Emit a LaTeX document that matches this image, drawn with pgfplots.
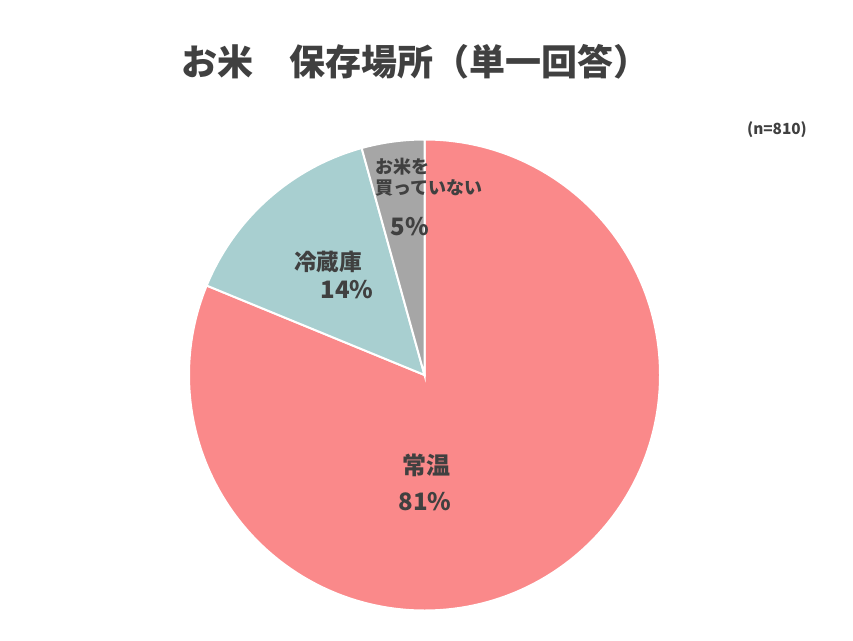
\documentclass[border=0pt]{standalone}
\usepackage{pgfplots}
\pgfplotsset{compat=1.18}
\usepackage{pgfplotstable}
\usepackage{fontspec}
\setmainfont{Noto Sans CJK JP}

\definecolor{jouon}{RGB}{250,137,138}
\definecolor{reizou}{RGB}{168,207,208}
\definecolor{nashi}{RGB}{166,166,166}
\definecolor{txt}{RGB}{64,64,64}

% share of answers in percent, clockwise from 12 o'clock
\pgfplotstableread{
key value
jouon 81.2
reizou 14.5
nashi 4.3
}\piedata

\begin{document}
\begin{tikzpicture}[x=0.75pt, y=0.75pt, every node/.style={text=txt}]
\path[use as bounding box] (0,0) rectangle (853,640);

\pgfplotstablegetelem{0}{value}\of\piedata \let\va\pgfplotsretval
\pgfplotstablegetelem{1}{value}\of\piedata \let\vb\pgfplotsretval
\pgfplotstablegetelem{2}{value}\of\piedata \let\vc\pgfplotsretval
\pgfmathsetmacro\aA{90}
\pgfmathsetmacro\aB{\aA-3.6*\va}
\pgfmathsetmacro\aC{\aB-3.6*\vb}
\pgfmathsetmacro\aD{\aC-3.6*\vc}
\def\R{176.625pt}

\begin{axis}[at={(318.375pt,198.75pt)}, anchor=center,
  width=353.25pt, height=353.25pt, scale only axis,
  hide axis, clip=false,
  xmin=-1, xmax=1, ymin=-1, ymax=1]
  \fill[jouon, draw=white, line width=1.5pt] (axis cs:0,0) -- (axis cs:{cos(\aA)},{sin(\aA)})
    arc[start angle=\aA, end angle=\aB, radius=\R] -- cycle;
  \fill[reizou, draw=white, line width=1.5pt] (axis cs:0,0) -- (axis cs:{cos(\aB)},{sin(\aB)})
    arc[start angle=\aB, end angle=\aC, radius=\R] -- cycle;
  \fill[nashi, draw=white, line width=1.5pt] (axis cs:0,0) -- (axis cs:{cos(\aC)},{sin(\aC)})
    arc[start angle=\aC, end angle=\aD, radius=\R] -- cycle;
\end{axis}

\node[font=\fontsize{27}{30}\selectfont\bfseries] at (415,578) {お米　保存場所（単一回答）};
\node[font=\fontsize{11.5}{13}\selectfont\bfseries] at (777,510) {(n=810)};

\node[font=\fontsize{18}{20}\selectfont\bfseries] at (426,175) {常温};
\node[font=\fontsize{18}{20}\selectfont\bfseries] at (425,138) {81\%};
\node[font=\fontsize{17}{20}\selectfont\bfseries] at (328,378) {冷蔵庫};
\node[font=\fontsize{18}{20}\selectfont\bfseries] at (347,350) {14\%};
\node[font=\fontsize{13.5}{16}\selectfont\bfseries, anchor=west, inner sep=0pt] at (375,473) {お米を};
\node[font=\fontsize{13.5}{16}\selectfont\bfseries, anchor=west, inner sep=0pt] at (375,452) {買っていない};
\node[font=\fontsize{18}{20}\selectfont\bfseries] at (410,413) {5\%};
\end{tikzpicture}
\end{document}
